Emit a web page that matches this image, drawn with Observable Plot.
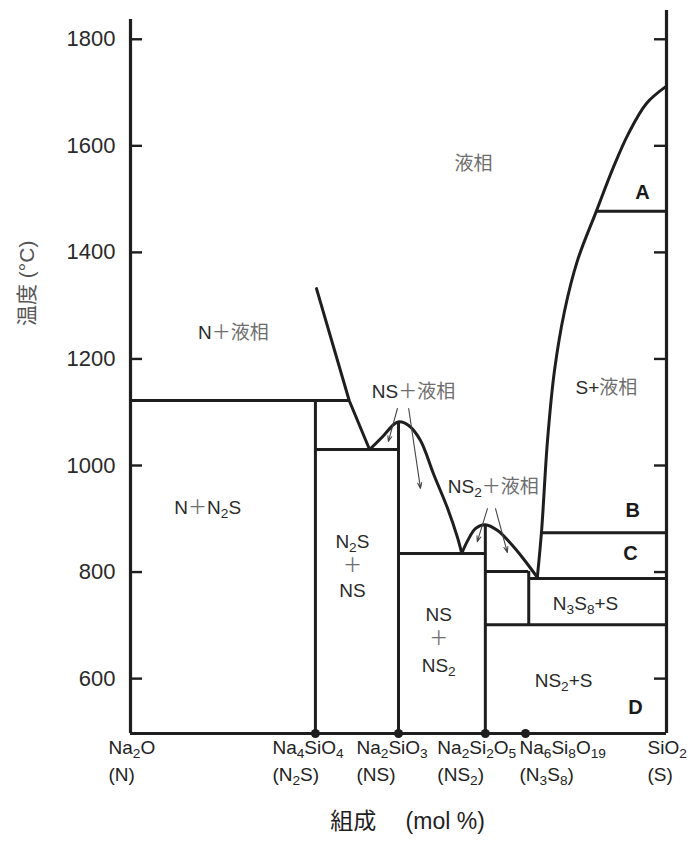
<!DOCTYPE html>
<html><head><meta charset="utf-8">
<script src="https://cdn.jsdelivr.net/npm/d3@7"></script>
<script src="https://cdn.jsdelivr.net/npm/@observablehq/plot@0.6"></script>
<style>
html,body{margin:0;padding:0;background:#fff;}
#chart{width:698px;height:843px;}
</style></head><body><div id="chart"></div>
<script>
// ---------- data ----------
const yTicks = [600, 800, 1000, 1200, 1400, 1600, 1800];
const yMin = 497, yMax = 1854, yLeftTop = 1837;

// compounds on the composition axis (mol % SiO2)
const compoundNames = ["Na_2O", "Na_4SiO_4", "Na_2SiO_3", "Na_2Si_2O_5", "Na_6Si_8O_19", "SiO_2"];
const compoundAbbr  = ["(N)", "(N_2S)", "(NS)", "(NS_2)", "(N_3S_8)", "(S)"];
const compoundX     = [0, 34.5, 50.0, 66.2, 73.7, 100];
const dotCompounds  = [1, 2, 3, 4];

// liquidus curves [composition, temperature]
const liquidusN2S = [[34.7, 1332], [40.8, 1122], [44.6, 1030]];
const liquidusNS  = [[44.6, 1030], [47.2, 1056], [49.1, 1077], [50.1, 1082], [51.9, 1075], [54.1, 1047], [56.5, 985], [59.1, 921], [61.0, 865], [61.8, 835]];
const liquidusNS2 = [[61.8, 835], [62.9, 859], [64.4, 882], [66.2, 889], [68.5, 878], [70.9, 854], [73.3, 825], [75.9, 790]];
const liquidusS   = [[75.9, 790], [76.7, 878], [77.8, 1047], [79.1, 1178], [81.0, 1291], [83.4, 1385], [86.9, 1477], [90.1, 1560], [92.9, 1623], [96.3, 1680], [100, 1712]];

// horizontal boundaries
const tieX1 = [0, 34.5, 50.0, 66.2, 74.3, 66.2, 76.7, 86.9];
const tieX2 = [40.8, 50.0, 66.2, 74.3, 100, 100, 100, 100];
const tieT  = [1122, 1030, 835, 801, 788, 701, 874, 1477];

// vertical boundaries
const vertX  = [34.5, 50.0, 66.2, 74.3];
const vertT1 = [yMin, yMin, yMin, 701];
const vertT2 = [1122, 1082, 889, 801];

// region labels
const regionText = ["液相", "N＋液相", "NS＋液相", "NS_2＋液相", "S+液相", "N＋N_2S", "N_2S", "＋", "NS", "NS", "＋", "NS_2", "N_3S_8+S", "NS_2+S"];
const regionX    = [64.0, 19.2, 52.8, 67.7, 88.8, 14.4, 41.4, 41.4, 41.4, 57.5, 57.5, 57.5, 84.9, 80.8];
const regionY    = [1567, 1248, 1139, 959, 1146, 921, 856, 811, 764, 719, 675, 623, 741, 596];

const phaseLetters = ["A", "B", "C", "D"];
const phaseX = [95.5, 93.7, 93.3, 94.2];
const phaseY = [1513, 915, 835, 546];

// pointer arrows
const arrowX1 = [49.8, 51.9, 66.6, 68.1];
const arrowY1 = [1107, 1107, 919, 919];
const arrowX2 = [48.1, 54.1, 64.7, 70.3];
const arrowY2 = [1045, 957, 857, 837];

// ---------- styles ----------
const ink = "#1e1e1e";
const cjkGray = "#6e6e6e";
const labelShift = [-22, -43, -42, -48, -6, -19];
const font = "'Liberation Sans', Arial, 'Noto Sans CJK JP', sans-serif";

const idx = n => d3.range(n);
const plotW = 698 - 130 - 32;

const marks = [
  // frame
  Plot.ruleX([0], {y1: yMin, y2: yLeftTop, stroke: ink, strokeWidth: 3.2}),
  Plot.ruleX([100], {y1: yMin, y2: yMax, stroke: ink, strokeWidth: 3.2}),
  Plot.ruleY([yMin], {x1: 0, x2: 100, stroke: ink, strokeWidth: 3.2}),
  // inward ticks
  Plot.ruleY(yTicks, {x1: 0, x2: 100, insetRight: plotW - 12, stroke: ink, strokeWidth: 2.4}),
  Plot.ruleY(yTicks, {x1: 0, x2: 100, insetLeft: plotW - 12, stroke: ink, strokeWidth: 2.4}),
  Plot.axisY({anchor: "left", ticks: yTicks, tickFormat: d => String(d), tickSize: 0, tickPadding: 15, fontSize: 22, fill: "#2a2a2a", label: null}),
  // boundaries
  Plot.ruleY(idx(tieT.length), {x1: i => tieX1[i], x2: i => tieX2[i], y: i => tieT[i], stroke: ink, strokeWidth: 3}),
  Plot.ruleX(idx(vertX.length), {x: i => vertX[i], y1: i => vertT1[i], y2: i => vertT2[i], stroke: ink, strokeWidth: 3}),
  Plot.line(liquidusN2S, {x: d => d[0], y: d => d[1], stroke: ink, strokeWidth: 3}),
  Plot.line(liquidusNS, {x: d => d[0], y: d => d[1], stroke: ink, strokeWidth: 3, curve: "catmull-rom"}),
  Plot.line(liquidusNS2, {x: d => d[0], y: d => d[1], stroke: ink, strokeWidth: 3, curve: "catmull-rom"}),
  Plot.line(liquidusS, {x: d => d[0], y: d => d[1], stroke: ink, strokeWidth: 3, curve: "catmull-rom"}),
  // arrows
  Plot.arrow(idx(arrowX1.length), {x1: i => arrowX1[i], y1: i => arrowY1[i], x2: i => arrowX2[i], y2: i => arrowY2[i], stroke: "#444", strokeWidth: 1.1, headLength: 8, headAngle: 40}),
  // compound dots
  Plot.dot(dotCompounds, {x: i => compoundX[i], y: yMin, r: 4.5, fill: ink}),
  // region labels
  Plot.text(idx(regionText.length), {x: i => regionX[i], y: i => regionY[i], text: i => regionText[i], fontSize: 19, fill: "#2a2a2a"}),
  Plot.text(idx(phaseLetters.length), {x: i => phaseX[i], y: i => phaseY[i], text: i => phaseLetters[i], fontSize: 20, fontWeight: "bold", fill: "#1a1a1a"}),
  // axis titles
  Plot.text(["温度 (°C)"], {frameAnchor: "left", rotate: -90, dx: -103, dy: -46, fontSize: 21, fill: "#555"}),
  Plot.text(["組成\u3000 (mol %)"], {frameAnchor: "bottom", dx: 9, dy: 95, fontSize: 23, fill: "#1e1e1e"})
];
// compound labels (two lines each)
compoundNames.forEach((name, i) => {
  marks.push(Plot.text([i], {x: j => compoundX[j], y: yMin, text: j => compoundNames[j], textAnchor: "start", dx: labelShift[i], dy: 14, fontSize: 19, fill: "#222"}));
  marks.push(Plot.text([i], {x: j => compoundX[j], y: yMin, text: j => compoundAbbr[j], textAnchor: "start", dx: labelShift[i], dy: 41, fontSize: 19, fill: "#222"}));
});

const chart = Plot.plot({
  width: 698, height: 843,
  marginLeft: 130, marginRight: 32, marginTop: 10, marginBottom: 110,
  x: {domain: [0, 100], axis: null},
  y: {domain: [yMin, yMax], axis: null},
  style: {fontFamily: font, background: "#fff", overflow: "visible"},
  marks
});

// rich text: "_n" -> subscript, CJK -> lighter gray
const NS = "http://www.w3.org/2000/svg";
const cjk = "\u3000-\u9fff\uff00-\uffef";
chart.querySelectorAll("text").forEach(el => {
  if (el.children.length) return;
  const s = el.textContent;
  if (!new RegExp(`[_${cjk}]`).test(s)) return;
  const isTitle = s.includes("(°C)") || s.includes("mol");
  el.textContent = "";
  const re = new RegExp(`_(\\d+)|([${cjk}]+)|([^_${cjk}]+)`, "g");
  let m;
  while ((m = re.exec(s))) {
    const t = document.createElementNS(NS, "tspan");
    if (m[1]) { t.textContent = m[1]; t.setAttribute("baseline-shift", "-0.28em"); t.setAttribute("font-size", "72%"); }
    else if (m[2]) { t.textContent = m[2]; if (!isTitle) t.setAttribute("fill", cjkGray); }
    else t.textContent = m[3];
    el.appendChild(t);
  }
});
document.getElementById("chart").appendChild(chart);
</script></body></html>
